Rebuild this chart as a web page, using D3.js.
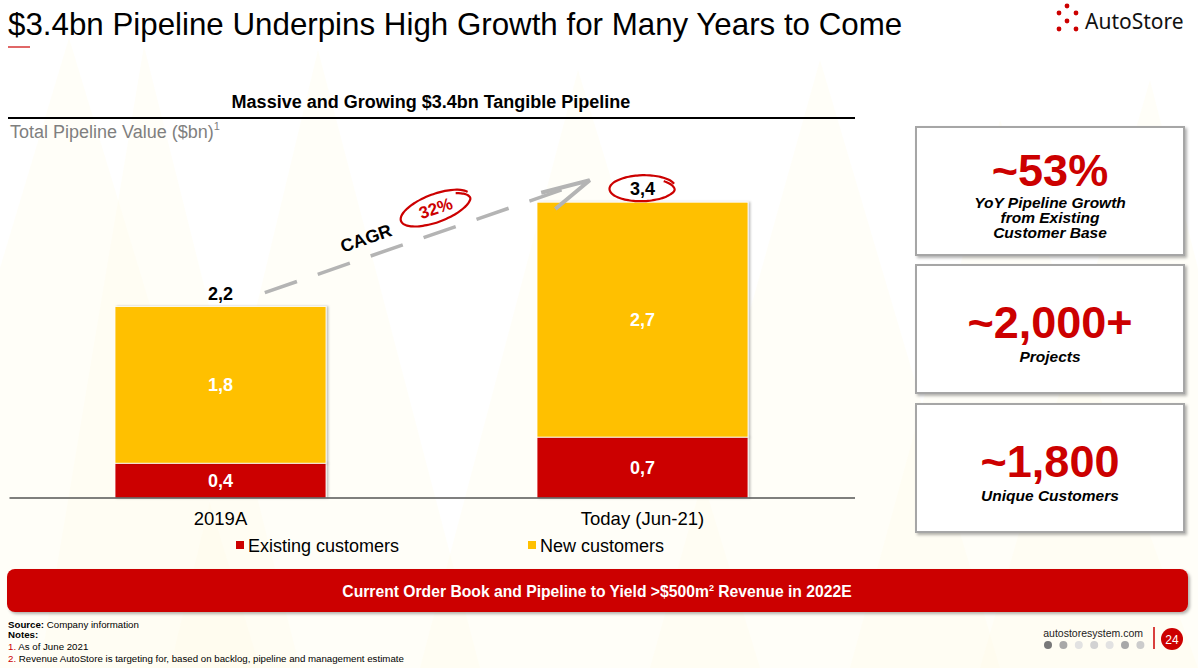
<!DOCTYPE html>
<html><head><meta charset="utf-8">
<script src="https://cdn.jsdelivr.net/npm/d3@7"></script>
<style>
html,body{margin:0;padding:0;background:#fff;}
svg{display:block;font-family:"Liberation Sans",Arial,Helvetica,sans-serif;}
</style></head>
<body>
<svg id="c" width="1198" height="668"></svg>
<script>
// ---------- data ----------
const categories = ["2019A", "Today (Jun-21)"];
const existingCustomers = [0.4, 0.7];
const newCustomers = [1.8, 2.7];
const totals = [2.2, 3.4];
const seriesNames = ["Existing customers", "New customers"];
const valueLabelsExisting = ["0,4", "0,7"];
const valueLabelsNew = ["1,8", "2,7"];
const totalLabels = ["2,2", "3,4"];
const cagrLabel = "32%";
const kpiValues = ["~53%", "~2,000+", "~1,800"];
const kpiLabels = [["YoY Pipeline Growth", "from Existing", "Customer Base"], ["Projects"], ["Unique Customers"]];
const navDots = ["#787878", "#a8a8a8", "#e2e2e2", "#d2d2d2", "#e2e2e2", "#a8a8a8", "#cccccc"];

const RED = "#cc0000", YEL = "#ffc000";
const svg = d3.select("#c");

// defs
const defs = svg.append("defs");
const f = defs.append("filter").attr("id","sh").attr("x","-10%").attr("y","-10%").attr("width","130%").attr("height","130%");
f.append("feDropShadow").attr("dx",2).attr("dy",2).attr("stdDeviation",1.5).attr("flood-color","#000").attr("flood-opacity",0.3);
const f2 = defs.append("filter").attr("id","sh2").attr("x","-10%").attr("y","-10%").attr("width","130%").attr("height","130%");
f2.append("feDropShadow").attr("dx",2).attr("dy",0).attr("stdDeviation",1.2).attr("flood-color","#000").attr("flood-opacity",0.25);

// faint background mountains
const mts = [[69,38,-120,260],[144,46,40,300],[318,50,170,480],[578,70,420,760],[820,60,650,1000],[1000,120,850,1198],[1150,80,980,1300]];
svg.append("g").selectAll("path").data(mts).join("path")
  .attr("d", d => `M${d[2]},668L${d[0]},${d[1]}L${d[3]},668Z`)
  .attr("fill","#fffbe8").attr("opacity",0.3);

// ---------- header ----------
svg.append("text").attr("x",8).attr("y",35).attr("font-size",31.3).attr("fill","#000")
  .text("$3.4bn Pipeline Underpins High Growth for Many Years to Come");
svg.append("line").attr("x1",8).attr("x2",30).attr("y1",47).attr("y2",47).attr("stroke",RED).attr("stroke-width",1.2);

// logo
const logoDots = [[1067,6],[1059,13],[1076,13],[1067,21],[1059,29],[1076,29]];
svg.append("g").selectAll("circle").data(logoDots).join("circle")
  .attr("cx",d=>d[0]).attr("cy",d=>d[1]).attr("r",2.4).attr("fill",RED);
svg.append("text").attr("x",1085).attr("y",29).attr("font-size",21).attr("fill","#111")
  .attr("font-family","'Noto Sans','DejaVu Sans',sans-serif").text("AutoStore");

// subtitle
svg.append("text").attr("x",431).attr("y",108).attr("text-anchor","middle").attr("font-size",18)
  .attr("font-weight","bold").text("Massive and Growing $3.4bn Tangible Pipeline");
svg.append("line").attr("x1",8).attr("x2",855).attr("y1",118).attr("y2",118).attr("stroke","#000").attr("stroke-width",2);
const yl = svg.append("text").attr("x",10).attr("y",138).attr("font-size",18).attr("fill","#7f7f7f");
yl.append("tspan").text("Total Pipeline Value ($bn)");
yl.append("tspan").attr("font-size",11).attr("dy",-8).text("1");

// ---------- chart ----------
const baseY = 498;
const x = d3.scaleBand().domain(categories).range([9.5, 853.5]).paddingInner(0.5).paddingOuter(0.25);
const y = d3.scaleLinear().domain([0, 3.4]).range([baseY, baseY - 3.4*87]);
const bw = x.bandwidth();

const rows = categories.map((c,i)=>({c, ex: existingCustomers[i], nw: newCustomers[i], tot: totals[i], i}));
const stack = d3.stack().keys(["ex","nw"])(rows);
const colors = [RED, YEL];
const segLabels = [valueLabelsExisting, valueLabelsNew];

const gBars = svg.append("g");
stack.forEach((layer, li) => {
  gBars.append("g").selectAll("rect").data(layer).join("rect")
    .attr("x", d => x(d.data.c)).attr("width", bw)
    .attr("y", d => y(d[1])).attr("height", d => y(d[0]) - y(d[1]))
    .attr("fill", colors[li]).attr("stroke","#fff").attr("stroke-width",0.8)
    .attr("filter","url(#sh2)");
});
stack.forEach((layer, li) => {
  gBars.append("g").selectAll("text").data(layer).join("text")
    .attr("x", d => x(d.data.c) + bw/2).attr("y", d => (y(d[0]) + y(d[1]))/2 + 6.5)
    .attr("text-anchor","middle").attr("font-size",18).attr("font-weight","bold").attr("fill","#fff")
    .text((d,i) => segLabels[li][i]);
});
// totals
svg.append("g").selectAll("text").data(rows).join("text")
  .attr("x", d => x(d.c) + bw/2).attr("y", d => y(d.tot) - 7)
  .attr("text-anchor","middle").attr("font-size",18).attr("font-weight","bold").attr("fill","#000")
  .text(d => totalLabels[d.i]);

// axis
const ax = svg.append("g").attr("transform",`translate(0,${baseY})`).call(d3.axisBottom(x).tickSize(0).tickPadding(14));
ax.select(".domain").attr("stroke","#555").attr("stroke-width",1.5).attr("d",`M9.5,0H855`);
ax.selectAll("text").attr("font-size",18.5).attr("fill","#000").attr("font-family","'Liberation Sans',Arial,sans-serif");

// legend
const leg = svg.append("g").attr("transform","translate(0,552)");
const legX = [236, 528];
seriesNames.forEach((n,i)=>{
  leg.append("rect").attr("x",legX[i]).attr("y",-11).attr("width",8).attr("height",8).attr("fill",colors[i]);
  leg.append("text").attr("x",legX[i]+12).attr("y",0).attr("font-size",18).text(n);
});

// hand-drawn ellipse helper
function handEllipse(g, cx, cy, rx, ry, rot, col){
  const pts = [];
  const a0 = 0.35, a1 = a0 + Math.PI*2 + 0.35;
  for(let k=0;k<=60;k++){
    const a = a0 + (a1-a0)*k/60;
    const shrink = k>52 ? 1 - (k-52)*0.02 : 1 + 0.03*Math.sin(a*2);
    pts.push([cx + rx*shrink*Math.cos(-a), cy + ry*shrink*Math.sin(-a)]);
  }
  g.append("path").attr("d", d3.line().curve(d3.curveBasis)(pts))
    .attr("fill","none").attr("stroke",col).attr("stroke-width",2.2)
    .attr("transform",`rotate(${rot},${cx},${cy})`);
}

// ellipse around total 2
const r2 = rows[1];
handEllipse(svg, x(r2.c)+bw/2, y(r2.tot)-14, 33, 13, 0, RED);

// CAGR arrow
const sx = x(rows[0].c) + bw*0.71, sy = y(rows[0].tot) - 14;
const ex = x(rows[1].c) + bw*0.25, ey = y(rows[1].tot) - 22;
const ang = Math.atan2(ey-sy, ex-sx), angD = ang*180/Math.PI;
const ag = svg.append("g").attr("transform",`translate(${sx},${sy}) rotate(${angD})`);
const L = Math.hypot(ex-sx, ey-sy);
ag.append("line").attr("x1",0).attr("y1",0).attr("x2",L-8).attr("y2",0)
  .attr("stroke","#b4b4b4").attr("stroke-width",3.5).attr("stroke-dasharray","34,22");
ag.append("path").attr("d",`M${L-50},-4L${L},0L${L-42},16`).attr("fill","none")
  .attr("stroke","#b4b4b4").attr("stroke-width",4).attr("stroke-linejoin","miter");
ag.append("text").attr("x",L*0.33).attr("y",-12).attr("text-anchor","middle").attr("font-size",18)
  .attr("font-weight","bold").text("CAGR");
ag.append("text").attr("x",L*0.55).attr("y",-18).attr("text-anchor","middle").attr("font-size",17)
  .attr("font-weight","bold").attr("fill",RED).text(cagrLabel);
handEllipse(ag, L*0.55, -24, 37, 14, 0, RED);

// ---------- KPI boxes ----------
const boxTop = [127, 265, 404];
const kg = svg.append("g");
kpiValues.forEach((v,i)=>{
  const t = boxTop[i];
  kg.append("rect").attr("x",916).attr("y",t).attr("width",268).attr("height",128)
    .attr("fill","#fff").attr("stroke","#a6a6a6").attr("stroke-width",2).attr("filter","url(#sh)");
  const lines = kpiLabels[i];
  const valY = i===0 ? t+59 : t+73;
  const off = i===0 ? 22 : 24;
  kg.append("text").attr("x",1050).attr("y",valY).attr("text-anchor","middle").attr("font-size",45)
    .attr("font-weight","bold").attr("fill",RED).text(v);
  lines.forEach((l,j)=>{
    kg.append("text").attr("x",1050).attr("y",valY+off+j*15).attr("text-anchor","middle").attr("font-size",15.5)
      .attr("font-weight","bold").attr("font-style","italic").attr("fill","#000").text(l);
  });
});

// ---------- banner ----------
svg.append("rect").attr("x",7).attr("y",569).attr("width",1181).attr("height",43).attr("rx",8)
  .attr("fill",RED).attr("filter","url(#sh)");
const bt = svg.append("text").attr("x",597).attr("y",597).attr("text-anchor","middle").attr("font-size",15.7)
  .attr("font-weight","bold").attr("fill","#fff");
bt.append("tspan").text("Current Order Book and Pipeline to Yield >$500m");
bt.append("tspan").attr("font-size",9).attr("dy",-6).text("2");
bt.append("tspan").attr("dy",6).text(" Revenue in 2022E");

// ---------- footer ----------
const fg = svg.append("g").attr("font-size",9.7);
const s1 = fg.append("text").attr("x",8).attr("y",628);
s1.append("tspan").attr("font-weight","bold").text("Source:");
s1.append("tspan").text(" Company information");
fg.append("text").attr("x",8).attr("y",638).attr("font-weight","bold").text("Notes:");
const n1 = fg.append("text").attr("x",8).attr("y",650);
n1.append("tspan").attr("fill",RED).text("1.");
n1.append("tspan").text(" As of June 2021");
const n2 = fg.append("text").attr("x",8).attr("y",662);
n2.append("tspan").attr("fill",RED).text("2.");
n2.append("tspan").text(" Revenue AutoStore is targeting for, based on backlog, pipeline and management estimate");

svg.append("text").attr("x",1143).attr("y",637).attr("text-anchor","end").attr("font-size",10.5).attr("fill","#222")
  .text("autostoresystem.com");
svg.append("g").selectAll("circle").data(navDots).join("circle")
  .attr("cx",(d,i)=>1048+i*15.4).attr("cy",645).attr("r",4).attr("fill",d=>d);
svg.append("line").attr("x1",1154).attr("x2",1154).attr("y1",627).attr("y2",649).attr("stroke",RED).attr("stroke-width",1.5);
svg.append("circle").attr("cx",1172).attr("cy",639).attr("r",11).attr("fill",RED);
svg.append("text").attr("x",1172).attr("y",643.5).attr("text-anchor","middle").attr("font-size",12).attr("fill","#fff").text("24");
</script>
</body></html>
